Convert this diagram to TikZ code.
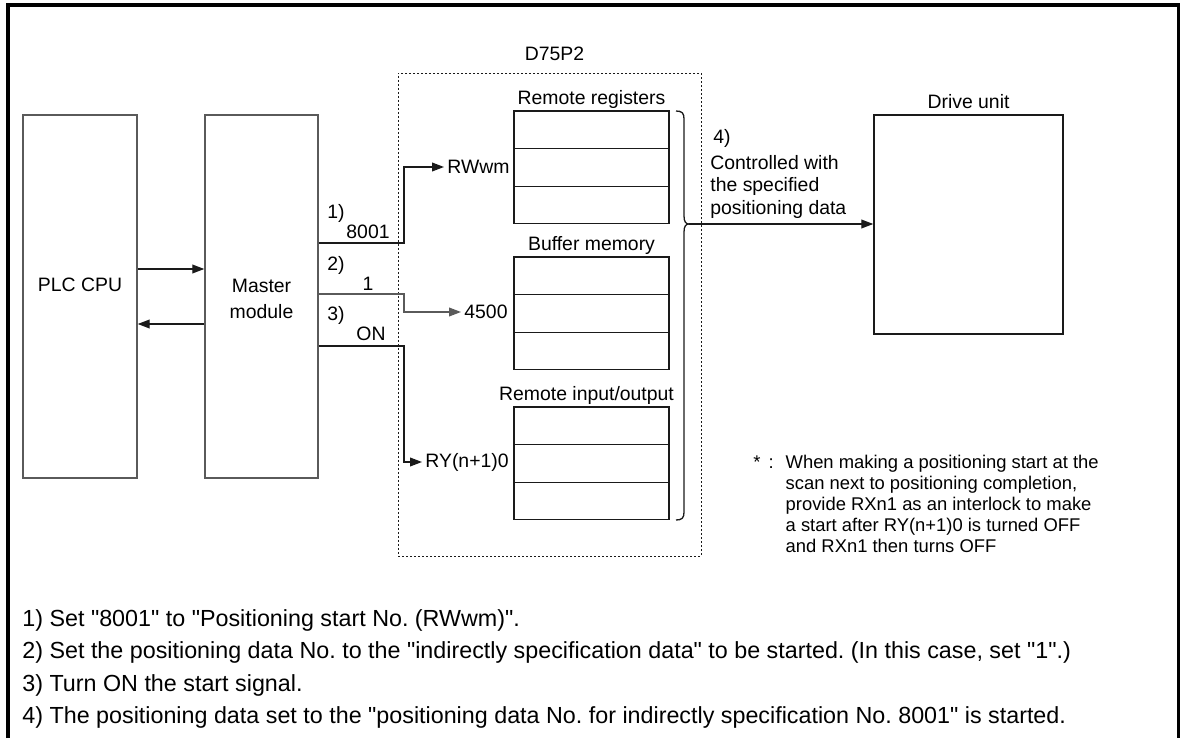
\documentclass[tikz,border=0pt]{standalone}
\usepackage{fontspec}
\setmainfont{Liberation Sans}[Ligatures=TeXOff]
\usepackage{xcolor}
\definecolor{Ink}{HTML}{1A1A1A}
\definecolor{Wire}{HTML}{5A5A5A}
\usepackage{tikz}
\usetikzlibrary{arrows.meta,positioning,calc}
\newcommand{\dq}{\symbol{34}}
\frenchspacing

\begin{document}
\begin{tikzpicture}[x=0.5pt,y=-0.5pt,
  unitbox/.style={draw=Wire,line width=0.7pt,inner sep=0pt},
  cell/.style={draw=Ink,line width=0.65pt,minimum width=77.5pt,minimum height=18.8pt,inner sep=0pt},
  dotbox/.style={draw=Ink,line width=0.45pt,dash pattern=on 1.2pt off 0.8pt,inner sep=0pt},
  lbl/.style={font=\fontsize{9.7}{11.3}\selectfont,inner sep=0pt},
  tgt/.style={lbl,inner xsep=1.5pt},
  remark/.style={font=\fontsize{9.2}{10.5}\selectfont,inner sep=0pt},
  stepline/.style={font=\fontsize{11.65}{13}\selectfont,inner sep=0pt,anchor=west},
  sig/.style={draw=Ink,line width=0.65pt,-{Triangle[length=6pt,width=4.4pt]}},
  wire/.style={draw=Ink,line width=0.65pt}
]
  \useasboundingbox (0,0) rectangle (1181,738);
  % outer frame, open at the bottom
  \draw[line width=1.75pt] (8,738) -- (8,5) -- (1178.5,5) -- (1178.5,738);

  \node[unitbox,minimum width=57pt,minimum height=181.5pt] (plc) at (80,296.5) {};
  \node[lbl] (plctext) at (80,285) {PLC CPU};
  \node[unitbox,minimum width=56.5pt,minimum height=181.5pt] (master) at (261.5,296.5) {};
  \node[lbl,align=center] (mastertext) at (261.5,299) {Master\\[1.6pt]module};

  \draw[sig] (plc.east |- 0,269) -- (master.west |- 0,269);
  \draw[sig] (master.west |- 0,324) -- (plc.east |- 0,324);

  % D75P2 with its three areas
  \node[dotbox,minimum width=151.5pt,minimum height=241.5pt] (d75) at (549.5,314.5) {};
  \node[lbl,above=5.5pt of d75,xshift=2.5pt] (d75lbl) {D75P2};
  \foreach \n/\top in {regs/111,buf/257,rio/407}
    \foreach \i in {0,1,2}
      \node[cell] (\n\i) at (591.5,\top+18.8+\i*37.6) {};
  \node[lbl,above=0.6pt of regs0] (regslbl) {Remote registers};
  \node[lbl,above=0.6pt of buf0] (buflbl) {Buffer memory};
  \node[lbl,above=0.6pt of rio0,xshift=-2.5pt] (riolbl) {Remote input/output};

  \node[tgt,anchor=west] (rwwm) at (444,167) {RWwm};
  \node[tgt,anchor=west] (addr) at (461,312) {4500};
  \node[tgt,anchor=west] (ry) at (422,462) {RY(n+1)0};

  \coordinate (tap) at (404,0);
  \draw[sig] (master.east |- 0,243) -| (tap |- rwwm.west) -- (rwwm.west);
  \draw[sig,draw=Wire] (master.east |- 0,294) -| (tap |- addr.west) -- (addr.west);
  \draw[sig] (master.east |- 0,346) -| (tap |- ry.west) -- (ry.west);

  \node[lbl] (n1) at (336,213) {1)};
  \node[lbl] (v1) at (368,232) {8001};
  \node[lbl] (n2) at (336,265) {2)};
  \node[lbl] (v2) at (368,284) {1};
  \node[lbl] (n3) at (336,315) {3)};
  \node[lbl] (v3) at (371,334) {ON};

  % brace over the three areas
  \draw[wire] (676,111) .. controls (682,111) and (684,113) .. (684,119) -- (684,216)
    .. controls (684,222) and (686,224) .. (689,224)
    .. controls (686,224) and (684,226) .. (684,232) -- (684,512)
    .. controls (684,518) and (682,520) .. (676,520);
  \coordinate (bracetip) at (689,224);

  \node[unitbox,draw=Ink,minimum width=94.5pt,minimum height=109.5pt] (drive) at (968.5,224.5) {};
  \node[lbl,above=2.5pt of drive] (drivelbl) {Drive unit};
  \draw[sig] (bracetip) -- (drive.west |- bracetip);

  \node[lbl,anchor=north west,align=left] (ctrl) at (710,129)
    {\hspace{1.5pt}4)\\[1.5pt]Controlled with\\the specified\\positioning data};

  \node[remark,anchor=north west] (note) at (753,453)
    {\begin{tabular}{@{}l@{\hspace{6pt}}l@{}}
      *\hspace{4pt}: & When making a positioning start at the\\
           & scan next to positioning completion,\\
           & provide RXn1 as an interlock to make\\
           & a start after RY(n+1)0 is turned OFF\\
           & and RXn1 then turns OFF
     \end{tabular}};

  \node[stepline] (step1) at (22,620) {1) Set \dq8001\dq{} to \dq Positioning start No. (RWwm)\dq.};
  \node[stepline] (step2) at (22,652) {2) Set the positioning data No. to the \dq indirectly specification data\dq{} to be started. (In this case, set \dq1\dq.)};
  \node[stepline] (step3) at (22,685) {3) Turn ON the start signal.};
  \node[stepline] (step4) at (22,717) {4) The positioning data set to the \dq positioning data No. for indirectly specification No. 8001\dq{} is started.};
\end{tikzpicture}
\end{document}
